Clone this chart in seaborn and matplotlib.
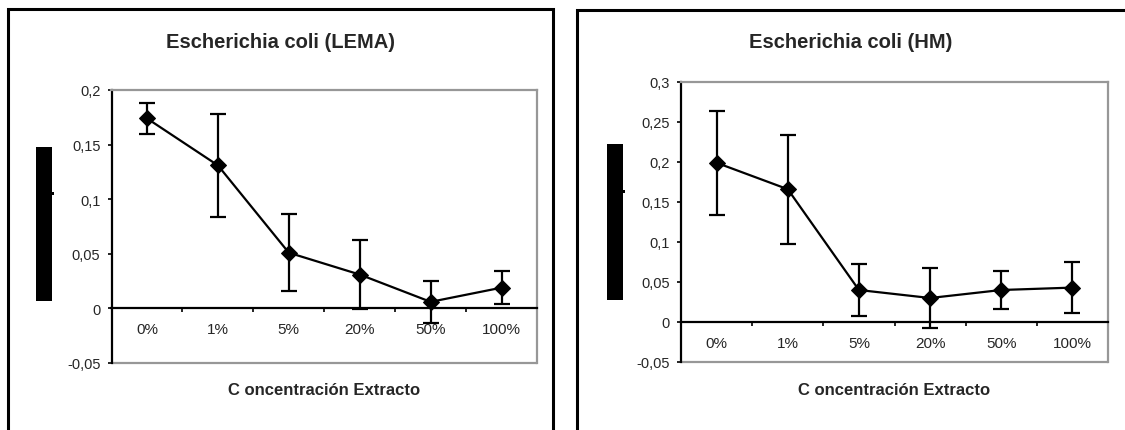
import numpy as np
import pandas as pd
import matplotlib
matplotlib.use("Agg")
import matplotlib.pyplot as plt
import matplotlib.patches as mpatches
from matplotlib.ticker import FixedLocator, FuncFormatter
import seaborn as sns

sns.set_theme(style="white")
plt.rcParams["font.family"] = ["Liberation Sans", "DejaVu Sans"]

# datos
CONC = ["0%", "1%", "5%", "20%", "50%", "100%"]
LEMA_MEAN = [0.174, 0.131, 0.051, 0.031, 0.006, 0.019]
LEMA_ERR = [0.0145, 0.047, 0.035, 0.032, 0.019, 0.015]
HM_MEAN = [0.199, 0.166, 0.040, 0.030, 0.040, 0.043]
HM_ERR = [0.065, 0.068, 0.033, 0.038, 0.024, 0.032]
LEMA_YTICKS = [-0.05, 0, 0.05, 0.1, 0.15, 0.2]
HM_YTICKS = [-0.05, 0, 0.05, 0.1, 0.15, 0.2, 0.25, 0.3]

W, H = 1125, 431
GRAY = "#979797"


def fmt_coma(v, pos=None):
    if abs(v) < 1e-9:
        return "0"
    return f"{v:g}".replace(".", ",")


def px_rect(x0, y0, x1, y1):
    """rectangulo en pixeles (origen arriba-izquierda) -> coords de figura"""
    return [x0 / W, 1 - y1 / H, (x1 - x0) / W, (y1 - y0) / H]


def panel(fig, rect, mean, err, yticks, title, title_x, box, blk, nub):
    ax = fig.add_axes(rect)
    x = np.arange(len(CONC))
    df = pd.DataFrame({"x": x, "y": mean})

    ax.errorbar(x, mean, yerr=err, fmt="none", ecolor="black",
                elinewidth=1.6, capsize=5.5, capthick=1.6, zorder=2)
    sns.lineplot(data=df, x="x", y="y", ax=ax, color="black", linewidth=1.6,
                 marker="D", markersize=8.5, markeredgecolor="black", zorder=3)

    ax.set_xlim(-0.5, len(CONC) - 0.5)
    ax.set_ylim(yticks[0], yticks[-1])
    ax.set_xlabel("")
    ax.set_ylabel("")

    ax.set_xticks(x)
    ax.set_xticklabels(CONC, fontsize=10.5)
    ax.xaxis.set_minor_locator(FixedLocator(np.arange(0.5, len(CONC), 1.0)))
    ax.tick_params(axis="x", which="major", length=0, pad=10)
    ax.tick_params(axis="x", which="minor", bottom=True, length=3, width=1.2,
                   direction="out", color="black")
    ax.set_yticks(yticks)
    ax.yaxis.set_major_formatter(FuncFormatter(fmt_coma))
    ax.tick_params(axis="y", left=True, length=3, width=1.2, pad=5,
                   labelsize=10.5, color="black")

    # eje x en cero, marco gris alrededor
    ax.spines["bottom"].set_position(("data", 0))
    ax.spines["bottom"].set_color("black")
    ax.spines["bottom"].set_linewidth(1.6)
    ax.spines["left"].set_color("black")
    ax.spines["left"].set_linewidth(1.6)
    for s in ["top", "right"]:
        ax.spines[s].set_color(GRAY)
        ax.spines[s].set_linewidth(1.6)
    ax.plot([0, 1], [0, 0], transform=ax.transAxes, color=GRAY,
            linewidth=1.6, clip_on=False, zorder=1)
    ax.grid(False)

    pos = ax.get_position()
    fig.text(title_x, 1 - 42 / H, title, ha="center", va="center",
             fontsize=14.5, fontweight="bold")
    fig.text(pos.x0 + pos.width / 2, 1 - 391 / H, "C oncentración Extracto",
             ha="center", va="center", fontsize=12, fontweight="bold")

    # marco del panel y bloque negro del titulo del eje y
    fig.patches.append(mpatches.Rectangle(
        box[:2], box[2], box[3], transform=fig.transFigure, fill=False,
        edgecolor="black", linewidth=2.2))
    for r in (blk, nub):
        fig.patches.append(mpatches.Rectangle(
            r[:2], r[2], r[3], transform=fig.transFigure,
            facecolor="black", edgecolor="none"))
    return ax


fig = plt.figure(figsize=(W / 100, H / 100), dpi=100)
fig.patch.set_facecolor("white")

panel(fig, px_rect(111.5, 91, 537, 364), LEMA_MEAN, LEMA_ERR, LEMA_YTICKS,
      "Escherichia coli (LEMA)", 280 / W,
      px_rect(8, 10, 553, 450), px_rect(36, 148, 52, 302),
      px_rect(52, 193, 54, 196))
panel(fig, px_rect(681, 83, 1108, 363), HM_MEAN, HM_ERR, HM_YTICKS,
      "Escherichia coli (HM)", 851 / W,
      px_rect(577, 11, 1135, 450), px_rect(607, 145, 623, 301),
      px_rect(623, 191, 625, 194))

fig.savefig("out.png", dpi=100)
